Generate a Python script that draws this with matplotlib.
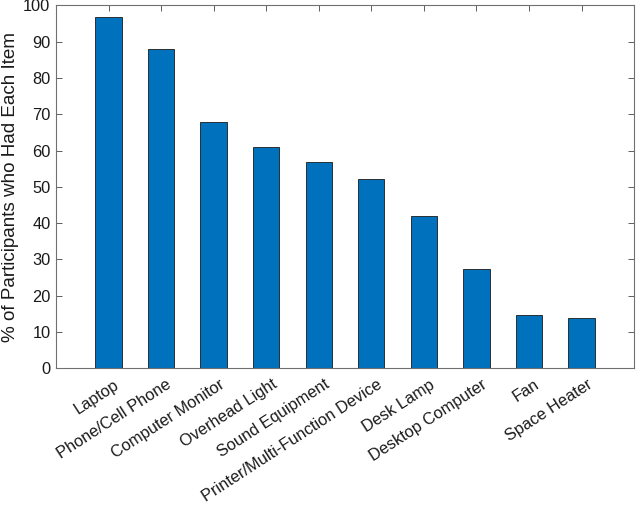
import matplotlib.pyplot as plt
import matplotlib.transforms as mtransforms
import numpy as np

plt.rcParams['font.family'] = ['Liberation Sans', 'DejaVu Sans']

# Items and share of participants who had each
items = ['Laptop', 'Phone/Cell Phone', 'Computer Monitor', 'Overhead Light',
         'Sound Equipment', 'Printer/Multi-Function Device', 'Desk Lamp',
         'Desktop Computer', 'Fan', 'Space Heater']
percent = [96.8, 88.0, 67.9, 61.0, 56.7, 52.1, 42.0, 27.4, 14.8, 13.9]
yticks = [0, 10, 20, 30, 40, 50, 60, 70, 80, 90, 100]

fig = plt.figure(figsize=(6.36, 5.09), dpi=100)
ax = fig.add_axes([0.088, 0.2764, 0.909, 0.7132])

x = np.arange(1, len(items) + 1)
ax.bar(x, percent, width=0.5, color='#0072BD', edgecolor='#1a1a1a', linewidth=0.6, zorder=2)

ax.set_xlim(0, 11)
ax.set_ylim(0, 100)
ax.set_yticks(yticks)
ax.set_xticks(x)
ax.set_xticklabels(items, rotation=33, ha='right', rotation_mode='anchor', fontsize=11.8)
ax.tick_params(axis='y', labelsize=11.8)
ax.tick_params(direction='in', length=4, width=0.6, color='#444444', pad=4,
               top=True, right=True, labelcolor='#1a1a1a')
for s in ax.spines.values():
    s.set_color('#707070')
    s.set_linewidth(0.8)

# nudge rotated labels a bit right/down like the original
shift = mtransforms.ScaledTranslation(5 / 100, -3 / 100, fig.dpi_scale_trans)
for lbl in ax.get_xticklabels():
    lbl.set_transform(lbl.get_transform() + shift)

ax.set_ylabel('% of Participants who Had Each Item', fontsize=13.6, color='#1a1a1a', labelpad=3)

plt.savefig('out.png', dpi=100)
